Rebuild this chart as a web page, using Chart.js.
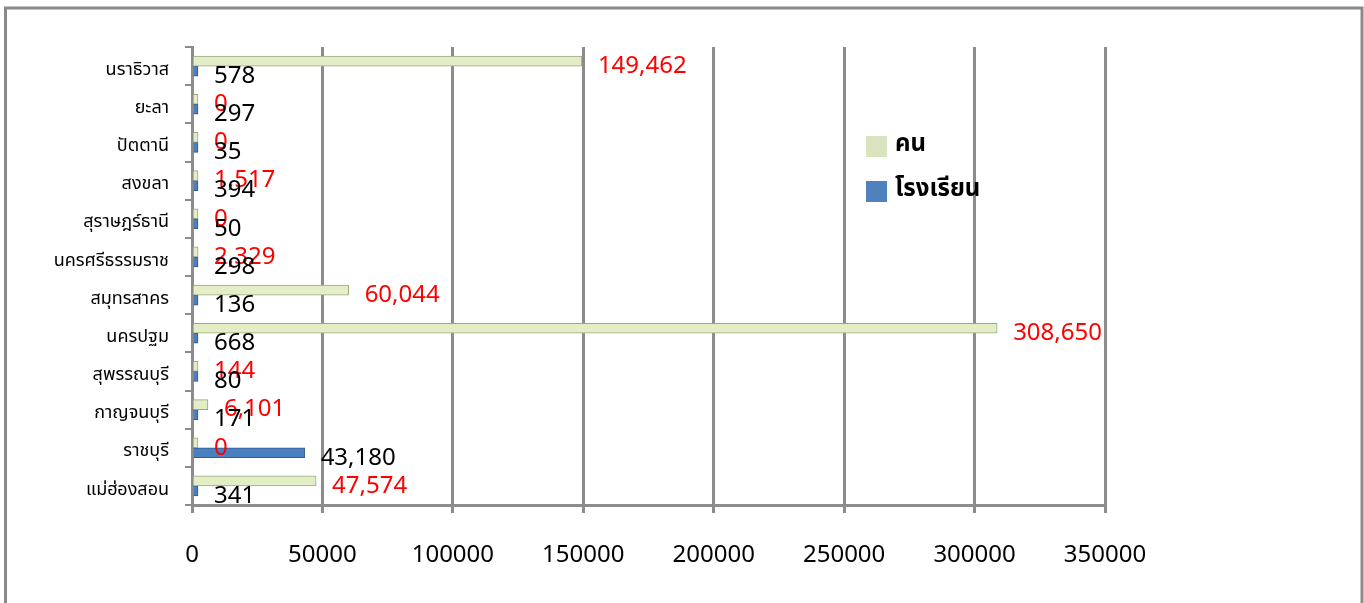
<!DOCTYPE html>
<html>
<head>
<meta charset="utf-8">
<script src="https://cdn.jsdelivr.net/npm/chart.js@4/dist/chart.umd.min.js"></script>
<style>
  html, body { margin: 0; padding: 0; background: #fff; }
  #wrap { width: 1364px; height: 603px; }
</style>
</head>
<body>
<div id="wrap"><canvas id="chart" width="1364" height="603"></canvas></div>
<script>
// provinces, top to bottom as shown
const provinces = ['นราธิวาส', 'ยะลา', 'ปัตตานี', 'สงขลา', 'สุราษฎร์ธานี', 'นครศรีธรรมราช',
    'สมุทรสาคร', 'นครปฐม', 'สุพรรณบุรี', 'กาญจนบุรี', 'ราชบุรี', 'แม่ฮ่องสอน'];
const people = [149462, 0, 0, 1517, 0, 2329, 60044, 308650, 144, 6101, 0, 47574];   // คน
const schools = [578, 297, 35, 394, 50, 298, 136, 668, 80, 171, 43180, 341];       // โรงเรียน
const xTicks = [0, 50000, 100000, 150000, 200000, 250000, 300000, 350000];

const numFont = '"Noto Sans", "Open Sans", sans-serif';
const thaiFont = 'Tahoma, "Noto Sans Thai", Loma, Garuda, "Noto Sans", sans-serif';
const gridGray = '#8c8c8c';

// outer frame, value labels and legend
const extras = {
    id: 'extras',
    afterDraw(chart) {
        const ctx = chart.ctx;
        ctx.save();
        ctx.strokeStyle = '#8a8a8a';
        ctx.lineWidth = 3;
        ctx.strokeRect(5.5, 8, 1356.5, 620);

        ctx.font = '24px ' + numFont;
        ctx.textAlign = 'left';
        ctx.textBaseline = 'middle';
        chart.data.datasets.forEach((ds, i) => {
            const meta = chart.getDatasetMeta(i);
            meta.data.forEach((bar, j) => {
                ctx.fillStyle = i === 0 ? '#ff0000' : '#000000';
                ctx.fillText(ds.data[j].toLocaleString('en-US'), bar.x + 16, bar.y + 5);
            });
        });

        // legend
        const items = [['คน', '#d7e4bd'], ['โรงเรียน', '#4f81bd']];
        ctx.font = 'bold 24px ' + thaiFont;
        items.forEach((it, k) => {
            const y = 136 + k * 45;
            ctx.fillStyle = it[1];
            ctx.fillRect(866, y, 21, 21);
            ctx.fillStyle = '#000';
            ctx.fillText(it[0], 895, y + 10);
        });
        ctx.restore();
    }
};

new Chart(document.getElementById('chart'), {
    type: 'bar',
    data: {
        labels: provinces,
        datasets: [{
            label: 'คน',
            data: people,
            backgroundColor: '#e3edc6',
            borderColor: '#9aa97c',
            borderWidth: 1,
            barThickness: 10,
            minBarLength: 6
        }, {
            label: 'โรงเรียน',
            data: schools,
            backgroundColor: '#4a7fc0',
            borderColor: '#30598c',
            borderWidth: 1,
            barThickness: 10,
            minBarLength: 6
        }]
    },
    options: {
        indexAxis: 'y',
        responsive: false,
        animation: false,
        devicePixelRatio: 1,
        layout: { padding: { left: 0, top: 47, right: 259, bottom: 0 } },
        scales: {
            x: {
                min: 0,
                max: 350000,
                afterBuildTicks: s => { s.ticks = xTicks.map(v => ({ value: v })); },
                afterFit: s => { s.height = 603 - 47 - 458; },
                border: { color: gridGray, width: 3 },
                grid: { color: gridGray, lineWidth: 3, tickLength: 8 },
                ticks: {
                    padding: 28,
                    color: '#000',
                    font: { family: numFont, size: 24 },
                    callback: v => String(v)
                }
            },
            y: {
                afterFit: s => { s.width = 192; },
                border: { color: gridGray, width: 3 },
                grid: { offset: true, drawOnChartArea: false, color: gridGray, lineWidth: 2, tickLength: 7 },
                ticks: {
                    padding: 16,
                    labelOffset: 5,
                    color: '#000',
                    font: { family: thaiFont, size: 18 }
                }
            }
        },
        plugins: {
            legend: { display: false },
            tooltip: { enabled: false }
        }
    },
    plugins: [extras]
});
</script>
</body>
</html>
